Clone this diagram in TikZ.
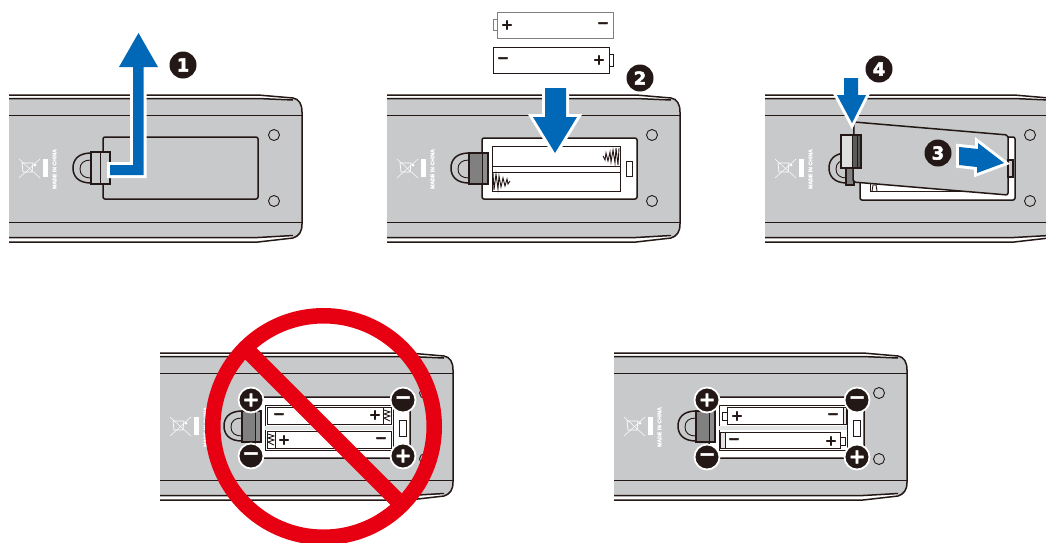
\documentclass[tikz,border=0pt]{standalone}
\usepackage{fontspec}
\usepackage{xcolor}
\usepackage{tikz}
\newfontfamily\signfont[BoldFeatures={FakeBold=2.5}]{DejaVu Sans}
\newfontfamily\markfont[BoldFeatures={FakeBold=1.2}]{Liberation Sans}
\definecolor{bodygray}{HTML}{C8C9CA}
\definecolor{tabgray}{HTML}{808080}
\definecolor{inkblack}{HTML}{231815}
\definecolor{armblue}{HTML}{0068B7}
\definecolor{banred}{HTML}{E60012}
\tikzset{
  edge/.style={draw=inkblack,line width=1.5pt},
  thinedge/.style={draw=inkblack,line width=0.9pt},
  cell/.style={draw=inkblack,fill=white,line width=0.9pt},
  blockarrow/.style={fill=armblue,preaction={draw=white,line width=6pt}},
  badge/.style={circle,fill=inkblack,text=white,minimum size=27pt,inner sep=0pt,
    font=\signfont\bfseries\fontsize{18}{18}\selectfont},
  pole/.style={circle,fill=inkblack,draw=white,line width=1.8pt,text=white,minimum size=25pt,
    inner sep=0pt,font=\signfont\bfseries\fontsize{20}{20}\selectfont},
  cellsign/.style={inner sep=0pt,text=inkblack,font=\signfont\bfseries\fontsize{14}{14}\selectfont},
  madeshape/.style={inner sep=0pt,text=white,rotate=90,
    font=\markfont\bfseries\fontsize{5.2}{5.2}\selectfont},
}

%% body of the remote, holes, bin mark and latch arch
\newcommand{\remotebody}[1]{
  \fill[bodygray] (9,95) -- (258,95) -- (293,98) .. controls (299,99) and (302,104) .. (302,112)
    -- (302,224) .. controls (302,232) and (299,236) .. (293,238) -- (258,242) -- (9,242) -- cycle;
  \fill[white] (9,95) -- (258,95) -- (293,98) -- (293,99.5) -- (258,98.5) -- (9,98.5) -- cycle;
  \fill[white] (9,238) -- (258,238) -- (293,236) -- (293,238) -- (258,242) -- (9,242) -- cycle;
  \draw[edge] (9,95) -- (258,95) -- (293,98) .. controls (299,99) and (302,104) .. (302,112)
    -- (302,224) .. controls (302,232) and (299,236) .. (293,238) -- (258,242) -- (9,242);
  \draw[edge] (9,98.5) -- (258,98.5) -- (293,100);
  \draw[edge] (9,237.5) -- (258,237.5) -- (293,235.5);
  \draw[thinedge] (9,115) -- (302,115);
  \draw[thinedge] (9,222) -- (302,222);
  \draw[thinedge] (274,135) circle (5.5pt);
  \draw[thinedge] (274,201) circle (5.5pt);
  %% bin mark
  \draw[white,line width=0.5pt] (19,159) -- (40,178);
  \draw[white,line width=0.5pt] (40,159) -- (19,178);
  \draw[white,line width=0.7pt] (22,163) -- (33,163) -- (32,172) -- (23,172) -- cycle;
  \fill[white] (35,165) circle (1.5pt);
  \fill[white] (43,159) rectangle (47.5,177);
  \node[madeshape] (#1made) at (54.5,169) {MADE IN CHINA};
  %% latch arch
  \draw[edge] (91,153) .. controls (78,153) and (73,160) .. (73,168)
    .. controls (73,176) and (78,183) .. (91,183);
  \draw[thinedge] (91,160) .. controls (84,160) and (80,163) .. (80,169)
    .. controls (80,175) and (84,178) .. (91,178);
}

%% grey tab of the latch
\newcommand{\darktab}{
  \fill[tabgray] (91,153) rectangle (104,184);
  \fill[bodygray!70!black] (104,153) rectangle (110,184);
  \draw[edge] (91,153) rectangle (110,184);
  \draw[thinedge] (104,153) -- (104,184);
}

%% open compartment outline
\newcommand{\frameopen}{
  \draw[edge,fill=white,rounded corners=2pt] (104,139) rectangle (259,200);
  \draw[thinedge,fill=white] (248,162) rectangle (255.5,178);
}

\begin{document}
\begin{tikzpicture}[x=1pt,y=-1pt]
  \path[clip,use as bounding box] (0,0) rectangle (1046,542);
  \fill[white] (0,0) rectangle (1046,542);

  %% ── step 1 ──
  \begin{scope}[shift={(0,0)}]
    \remotebody{a}
    \draw[edge,fill=bodygray,rounded corners=2pt] (103,137) rectangle (258,199);
    \draw[edge,fill=bodygray] (91,152) rectangle (110,184);
    \draw[thinedge] (100,152) -- (100,184);
    \path[blockarrow] (110,165) -- (133,165) -- (133,67) -- (119,67) -- (138.5,33) -- (158,67)
      -- (143.5,67) -- (143.5,175) -- (110,175) -- cycle;
    \node[badge] (badgeone) at (183,65) {1};
  \end{scope}

  %% ── step 2 ──
  \begin{scope}[shift={(378,0)}]
    \remotebody{b}
    \draw[edge,fill=white,rounded corners=2pt] (104,138) rectangle (259,199);
    \draw[thinedge,fill=white] (114,146) rectangle (242,191);
    \draw[thinedge] (114,166) -- (242,166);
    \draw[thinedge] (114,172) -- (242,172);
    \draw[thinedge] (248,161) rectangle (254,176);
    \darktab
    \draw[thinedge] (225,156) -- (227,160) -- (228,153) -- (230,161) -- (232,152) -- (233,162)
      -- (235,150) -- (237,163) -- (238,148) -- (240,165) -- (241,148);
    \draw[thinedge] (115,173) -- (116,190) -- (118,174) -- (120,189) -- (121,176) -- (123,187)
      -- (125,178) -- (127,186) -- (129,179) -- (130,184) -- (132,181);
    %% loose cells
    \draw[cell,draw=tabgray] (115.5,19) rectangle (119,30);
    \draw[cell,draw=tabgray] (119,12) rectangle (235,38);
    \node[cellsign] (plustop) at (129,25) {+};
    \node[cellsign] (minustop) at (225,25) {−};
    \draw[cell] (231,54) rectangle (235.5,66);
    \draw[cell] (115,47) rectangle (231,73);
    \node[cellsign] (minuslow) at (125,60) {−};
    \node[cellsign] (pluslow) at (221,60) {+};
    \path[blockarrow] (167,88) -- (188,88) -- (188,117) -- (199,117) -- (177,153) -- (155,117)
      -- (167,117) -- cycle;
    \node[badge] (badgetwo) at (262,78) {2};
  \end{scope}

  %% ── steps 3 and 4 ──
  \begin{scope}[shift={(756,0)}]
    \remotebody{c}
    \draw[edge,fill=white,rounded corners=2pt] (104,137) rectangle (259,200);
    \draw[thinedge,fill=white] (114,146) rectangle (242,191);
    \draw[thinedge] (116,191) -- (117,185) -- (120,185) -- (121,191);
    \fill[tabgray] (90,168) rectangle (98,185);
    \draw[edge] (90,168) rectangle (98,185);
    \draw[edge,fill=bodygray,rounded corners=2pt] (98,122) -- (252,135) -- (252,195) -- (97,182) -- cycle;
    \draw[edge,fill=bodygray] (252,160) rectangle (257,177);
    \fill[bodygray!60!white] (85,135) rectangle (96,168);
    \fill[tabgray!70!black] (96,135) rectangle (105,168);
    \draw[edge] (85,135) rectangle (105,168);
    \draw[thinedge] (96,135) -- (96,168);
    \draw[thinedge] (101,135) -- (101,168);
    \path[blockarrow] (88,78) -- (102,78) -- (102,95) -- (110,95) -- (96,123) -- (81,95)
      -- (88,95) -- cycle;
    \node[badge] (badgefour) at (123,69) {4};
    \path[blockarrow] (203,147) -- (222,149) -- (222,143) -- (248,163) -- (221,173) -- (221,167)
      -- (203,165) -- cycle;
    \node[badge] (badgethree) at (182,153) {3};
  \end{scope}

  %% ── wrong way round ──
  \begin{scope}[shift={(151,258)}]
    \remotebody{d}
    \frameopen
    \draw[thinedge,fill=white] (114,147) rectangle (242,192);
    \draw[cell] (116,149) rectangle (232,166);
    \draw[cell] (232,149) rectangle (240,166);
    \draw[thinedge] (233,152) -- (239,154) -- (233,156) -- (239,158) -- (233,160) -- (239,163);
    \fill[bodygray!50!white] (114,168) rectangle (242,171.5);
    \draw[cell] (124,173) rectangle (240,190);
    \draw[cell] (116,173) rectangle (124,190);
    \draw[thinedge] (117,176) -- (123,178) -- (117,180) -- (123,182) -- (117,184) -- (123,187);
    \node[cellsign] (minusd) at (128,158) {−};
    \node[cellsign] (plusd) at (224,157) {+};
    \node[cellsign] (plusdlow) at (133,182) {+};
    \node[cellsign] (minusdlow) at (230,182) {−};
    \darktab
    \node[pole] (poleda) at (100,142) {+};
    \node[pole] (poledb) at (252,142) {−};
    \node[pole] (poledc) at (100,198) {−};
    \node[pole] (poledd) at (252,198) {+};
  \end{scope}

  %% ── ban sign ──
  \draw[banred,line width=15.5pt] (323.5,426.5) circle (110.75pt);
  \draw[banred,line width=16pt] (245.2,348.2) -- (401.8,504.8);

  %% ── right way round ──
  \begin{scope}[shift={(605,258)}]
    \remotebody{e}
    \frameopen
    \draw[thinedge,fill=white] (114,147) rectangle (242,192);
    \draw[thinedge,fill=bodygray!50!white] (238,149) rectangle (241,166);
    \draw[thinedge,fill=bodygray!50!white] (115,174) rectangle (120,190);
    \draw[cell] (117,154) rectangle (122,162);
    \draw[cell] (122,149) rectangle (238,166);
    \fill[bodygray!50!white] (114,168) rectangle (242,171.5);
    \draw[cell] (235,179) rectangle (240,187);
    \draw[cell] (120,174) rectangle (235,190);
    \node[cellsign] (pluse) at (132,158) {+};
    \node[cellsign] (minuse) at (228,158) {−};
    \node[cellsign] (minuselow) at (129,183) {−};
    \node[cellsign] (pluselow) at (226,183) {+};
    \darktab
    \node[pole] (poleea) at (102,142) {+};
    \node[pole] (poleeb) at (252,142) {−};
    \node[pole] (poleec) at (102,199) {−};
    \node[pole] (poleed) at (252,199) {+};
  \end{scope}
\end{tikzpicture}
\end{document}
